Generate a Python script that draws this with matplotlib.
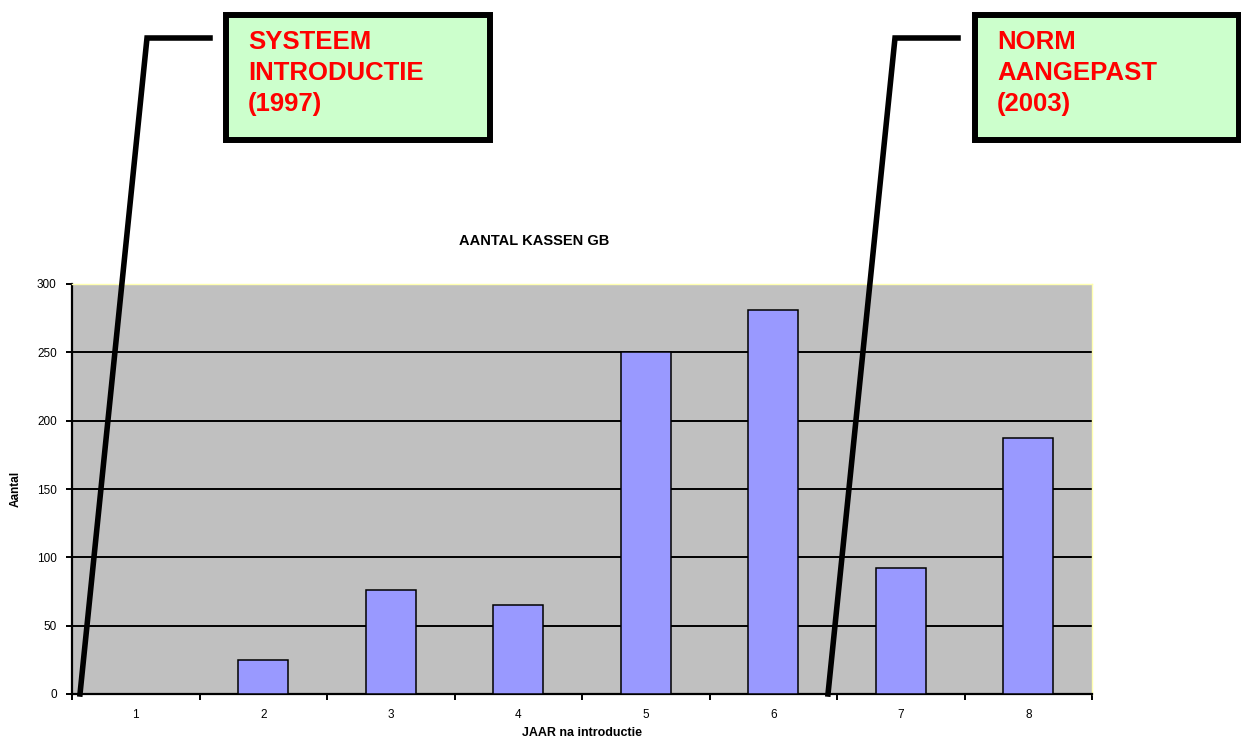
import matplotlib.pyplot as plt
from matplotlib.lines import Line2D
from matplotlib.patches import Rectangle

plt.rcParams['font.family'] = ['Liberation Sans', 'DejaVu Sans']

jaren = [1, 2, 3, 4, 5, 6, 7, 8]
aantal = [0, 25, 76, 65, 250, 281, 92, 187]
y_ticks = [0, 50, 100, 150, 200, 250, 300]

W, H = 1241, 740
fig = plt.figure(figsize=(W / 100, H / 100), dpi=100)
ax = fig.add_axes([72 / W, 46 / H, 1020 / W, 410 / H])

ax.set_facecolor('#c0c0c0')
ax.bar(jaren, aantal, width=0.39, color='#9999ff', edgecolor='black',
       linewidth=1.1, zorder=3)

ax.set_xlim(0.5, 8.5)
ax.set_ylim(0, 300)
ax.set_yticks(y_ticks)
ax.set_yticklabels([str(v) for v in y_ticks], fontsize=8.5)
for v in y_ticks[1:-1]:
    ax.axhline(v, color='black', linewidth=1.4, zorder=1)

# category boundaries as tick marks, labels centred on categories
ax.set_xticks([x + 0.5 for x in [0] + jaren])
ax.set_xticklabels([])
ax.set_xticks(jaren, minor=True)
ax.set_xticklabels([str(j) for j in jaren], minor=True, fontsize=8.5)
ax.tick_params(axis='x', which='minor', length=0, pad=11)
ax.tick_params(axis='both', which='major', length=4, width=1.4, direction='out')
ax.tick_params(axis='y', pad=7)

for side in ['left', 'bottom']:
    ax.spines[side].set_linewidth(1.6)
for side in ['top', 'right']:
    ax.spines[side].set_color('#ffffb0')
    ax.spines[side].set_linewidth(1.0)

fig.text(16 / W, 1 - 489 / H, 'Aantal', fontsize=8.5, fontweight='bold',
         rotation=90, ha='center', va='center')
fig.text(582 / W, 1 - 733 / H, 'JAAR na introductie', fontsize=9,
         fontweight='bold', ha='center', va='center')
fig.text(534 / W, 1 - 241 / H, 'AANTAL KASSEN GB', fontsize=10.5,
         fontweight='bold', ha='center', va='center')

# callout lines and boxes (figure pixel coordinates)
callouts = [
    (80, 147, 210, 226, ['SYSTEEM', 'INTRODUCTIE', '(1997)']),
    (828, 895, 958, 975, ['NORM', 'AANGEPAST', '(2003)']),
]
for x_bot, x_top, x_end, box_x, lines in callouts:
    xs = [x_bot / W, x_top / W, x_end / W]
    ys = [1 - 694 / H, 1 - 38 / H, 1 - 38 / H]
    fig.add_artist(Line2D(xs, ys, color='black', linewidth=4,
                          solid_joinstyle='miter', zorder=5))
    fig.add_artist(Rectangle((box_x / W, 1 - 140 / H), 264 / W, 125 / H,
                             facecolor='#ccffcc', edgecolor='black',
                             linewidth=4.3, zorder=5))
    for i, line in enumerate(lines):
        fig.text((box_x + 22) / W, 1 - (42 + 31 * i) / H, line, color='#ff0000',
                 fontsize=18.5, fontweight='bold', va='center', ha='left',
                 zorder=6)

fig.savefig('out.png', dpi=100)
